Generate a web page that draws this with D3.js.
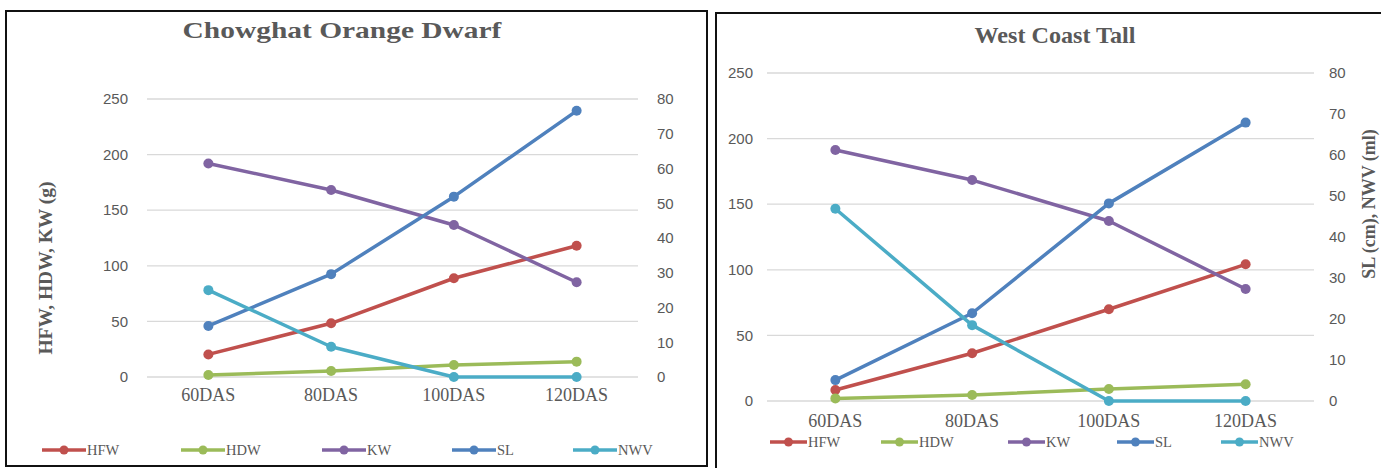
<!DOCTYPE html>
<html>
<head>
<meta charset="utf-8">
<script src="https://cdn.jsdelivr.net/npm/d3@7"></script>
<style>
  body { margin: 0; background: #fff; }
  svg { display: block; }
</style>
</head>
<body>
<svg></svg>
<script>
let categories = ['60DAS', '80DAS', '100DAS', '120DAS'];
let seriesNames = ['HFW', 'HDW', 'KW', 'SL', 'NWV'];
let leftTicks = [0, 50, 100, 150, 200, 250];
let rightTicks = [0, 10, 20, 30, 40, 50, 60, 70, 80];

// Chowghat Orange Dwarf
let codHFW = [20.3, 48.3, 88.8, 118];
let codHDW = [1.8, 5.4, 10.8, 13.8];
let codKW = [192, 168.2, 136.7, 85.2];
let codSL = [14.7, 29.6, 51.9, 76.6];
let codNWV = [25, 8.7, 0, 0];

// West Coast Tall
let wctHFW = [8.4, 36.4, 69.9, 104.2];
let wctHDW = [2, 4.6, 9.1, 12.7];
let wctKW = [191.3, 168.4, 137.2, 85.4];
let wctSL = [5.1, 21.4, 48.2, 67.9];
let wctNWV = [46.9, 18.5, 0, 0];

let colors = ['#C0504D', '#9BBB59', '#8064A2', '#4F81BD', '#4BACC6'];
let onRight = [false, false, false, true, true];

let serif = '"Liberation Serif", "Times New Roman", serif';
let sans = '"Liberation Sans", Arial, sans-serif';
let grey = '#595959';

let svg = d3.select('svg').attr('width', 1381).attr('height', 468);

function drawPanel(p) {
    let g = svg.append('g');

    g.append('rect')
        .attr('x', p.box[0]).attr('y', p.box[1])
        .attr('width', p.box[2]).attr('height', p.box[3])
        .attr('fill', '#fff').attr('stroke', '#111').attr('stroke-width', 2);

    g.append('text')
        .attr('transform', 'translate(' + p.titleX + ',' + p.titleY + ') scale(' + p.titleStretch + ',1)')
        .attr('text-anchor', 'middle')
        .attr('font-family', serif).attr('font-weight', 'bold')
        .attr('font-size', 23)
        .attr('fill', grey)
        .text(p.title);

    let x = d3.scalePoint().domain(categories).range([p.x0, p.x1]).padding(0.5);
    let yL = d3.scaleLinear().domain([0, 250]).range([p.yb, p.yt]);
    let yR = d3.scaleLinear().domain([0, 80]).range([p.yb, p.yt]);

    // gridlines
    g.selectAll('.grid').data(leftTicks).enter().append('line')
        .attr('x1', p.x0).attr('x2', p.x1)
        .attr('y1', d => yL(d)).attr('y2', d => yL(d))
        .attr('stroke', '#d9d9d9').attr('stroke-width', 1.3);

    g.selectAll('.ltick').data(leftTicks).enter().append('text')
        .attr('x', p.lLabelX).attr('y', d => yL(d))
        .attr('dy', '0.35em').attr('text-anchor', 'end')
        .attr('font-family', sans).attr('font-size', 15).attr('fill', grey)
        .text(d => d);

    g.selectAll('.rtick').data(rightTicks).enter().append('text')
        .attr('x', p.rLabelX).attr('y', d => yR(d))
        .attr('dy', '0.35em').attr('text-anchor', 'start')
        .attr('font-family', sans).attr('font-size', 15).attr('fill', grey)
        .text(d => d);

    g.selectAll('.xlab').data(categories).enter().append('text')
        .attr('x', d => x(d)).attr('y', p.xLabelY)
        .attr('text-anchor', 'middle')
        .attr('font-family', serif).attr('font-size', 18).attr('fill', grey)
        .text(d => d);

    if (p.yTitle) {
        g.append('text')
            .attr('transform', 'translate(' + p.yTitle.x + ',' + p.yTitle.y + ') rotate(-90)')
            .attr('text-anchor', 'middle').attr('dy', '0.35em')
            .attr('font-family', serif).attr('font-weight', 'bold')
            .attr('font-size', p.yTitle.size).attr('fill', grey)
            .text(p.yTitle.text);
    }

    let series = p.data.map((vals, i) => ({ name: seriesNames[i], vals: vals, color: colors[i], scale: onRight[i] ? yR : yL }));

    series.forEach(s => {
        let line = d3.line().x((d, j) => x(categories[j])).y(d => s.scale(d));
        g.append('path')
            .attr('d', line(s.vals))
            .attr('fill', 'none').attr('stroke', s.color)
            .attr('stroke-width', 3.5).attr('stroke-linejoin', 'round');
        g.selectAll(null).data(s.vals).enter().append('circle')
            .attr('cx', (d, j) => x(categories[j])).attr('cy', d => s.scale(d))
            .attr('r', 5).attr('fill', s.color);
    });

    // legend
    let leg = g.selectAll('.leg').data(series).enter().append('g')
        .attr('transform', (d, i) => 'translate(' + p.legX[i] + ',' + p.legY + ')');
    leg.append('line')
        .attr('x1', 0).attr('x2', p.legLen).attr('y1', 0).attr('y2', 0)
        .attr('stroke', d => d.color).attr('stroke-width', 3.5);
    leg.append('circle')
        .attr('cx', p.legLen / 2).attr('cy', 0).attr('r', 4.5)
        .attr('fill', d => d.color);
    leg.append('text')
        .attr('x', p.legLen + 1).attr('y', 0).attr('dy', '0.35em')
        .attr('font-family', serif).attr('font-size', 14.5).attr('fill', grey)
        .text(d => d.name);
}

drawPanel({
    box: [6, 11, 701, 455],
    title: 'Chowghat Orange Dwarf', titleX: 342, titleY: 38, titleStretch: 1.28,
    x0: 147, x1: 638, yt: 99, yb: 377,
    lLabelX: 128, rLabelX: 657, xLabelY: 401,
    yTitle: { text: 'HFW, HDW, KW (g)', x: 45, y: 268, size: 19.5 },
    data: [codHFW, codHDW, codKW, codSL, codNWV],
    legX: [42, 181, 322, 452, 573], legY: 450, legLen: 44
});

drawPanel({
    box: [716, 13, 720, 470],
    title: 'West Coast Tall', titleX: 1055, titleY: 43, titleStretch: 1.05,
    x0: 767, x1: 1314, yt: 73, yb: 401,
    lLabelX: 753, rLabelX: 1329, xLabelY: 427,
    yTitle: { text: 'SL (cm), NWV (ml)', x: 1369, y: 204, size: 18 },
    data: [wctHFW, wctHDW, wctKW, wctSL, wctNWV],
    legX: [770, 881, 1008, 1117, 1221], legY: 442, legLen: 37
});
</script>
</body>
</html>
